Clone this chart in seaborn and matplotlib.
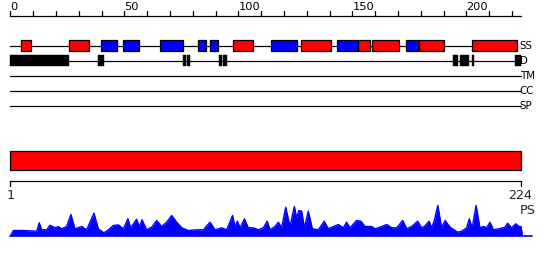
import matplotlib
matplotlib.use("Agg")
import matplotlib.pyplot as plt
from matplotlib.patches import Rectangle
import seaborn as sns

# ---------------- data ----------------
seq_len = 224
ruler_major = [0, 50, 100, 150, 200]
ruler_minor = [0, 10, 20, 30, 40, 50, 60, 70, 80, 90, 100, 110, 120, 130,
               140, 150, 160, 170, 180, 190, 200, 210, 220]

# secondary structure elements (H = helix red, E = strand blue)
ss_start = [4.7, 25.8, 39.7, 49.5, 65.7, 82.4, 87.6, 97.7, 114.3, 127.5,
            143.3, 152.5, 158.7, 173.6, 179.3, 202.5]
ss_end = [8.9, 34.6, 46.8, 56.5, 75.8, 85.6, 90.9, 106.5, 125.5, 140.7,
          152.5, 157.5, 170.5, 178.6, 190.3, 222.3]
ss_type = ["H", "H", "E", "E", "E", "E", "E", "H", "E", "H",
           "E", "H", "H", "E", "H", "H"]

# disordered regions
dis_start = [0.0, 38.5, 75.7, 77.4, 91.4, 93.4, 194.1, 197.3, 202.4, 221.4]
dis_end = [25.8, 41.0, 76.8, 78.6, 92.6, 94.9, 196.4, 201.2, 203.4, 223.8]

track_labels = ["SS", "D", "TM", "CC", "SP"]

# domain bar
domain_start = [0.0]
domain_end = [224.0]

# PS profile (position, score)
ps_pos = [1.07, 2.24, 6.6, 12.5, 13.6, 14.7, 16.9, 18.3, 20.5, 22.0,
          23.4, 25.6, 27.5, 29.3, 32.2, 34.4, 37.6, 39.5, 42.0, 43.9,
          46.1, 48.3, 50.5, 52.5, 53.7, 56.3, 57.5, 58.7, 60.7, 62.9,
          65.1, 67.3, 69.5, 71.7, 73.9, 76.1, 79.0, 82.7, 85.6, 88.5,
          90.7, 93.6, 95.8, 98.4, 99.5, 100.5, 101.7, 103.6, 105.3, 107.5,
          109.7, 111.9, 113.6, 114.8, 117.0,
          118.5, 119.9, 121.7, 123.6, 125.5, 126.5, 127.5, 128.7, 129.9, 131.6,
          133.4, 136.0, 138.6, 140.4, 142.6, 144.8, 147.0, 148.4, 149.9, 152.8,
          154.7, 156.5, 159.4, 160.9, 163.8, 166.0, 168.2, 170.4, 173.0, 174.8,
          176.9, 179.6, 181.3, 182.5, 184.6, 185.7, 186.9, 188.4, 190.1, 191.6,
          193.8, 197.1, 198.9, 201.1, 202.2, 203.5, 205.2, 206.9, 208.4, 209.8,
          211.3, 212.8, 215.3, 217.9, 219.0, 220.8, 222.6, 224.0, 224.9, 225.5]
ps_val = [0.0, 5.0, 5.0, 4.3, 12.7, 5.7, 5.7, 10.3, 7.7, 9.0,
          6.7, 9.0, 21.0, 6.7, 9.0, 5.7, 22.3, 6.7, 2.7, 5.7,
          10.0, 10.7, 6.7, 16.7, 7.7, 16.3, 9.0, 15.7, 5.7, 8.3,
          15.0, 9.0, 13.3, 20.0, 13.3, 7.7, 5.0, 5.7, 5.7, 13.3,
          5.7, 7.7, 5.7, 20.0, 9.0, 14.3, 7.7, 16.7, 7.7, 7.7,
          5.7, 7.7, 14.3, 5.7, 9.0,
          13.3, 7.7, 28.3, 9.0, 29.0, 17.7, 25.0, 24.3, 7.7, 24.3,
          6.7, 5.7, 14.3, 6.7, 9.0, 11.0, 7.7, 13.3, 7.7, 15.0,
          14.3, 9.0, 9.0, 6.7, 9.0, 11.0, 7.7, 7.7, 15.0, 6.7,
          9.0, 14.3, 7.7, 9.0, 14.3, 7.7, 15.0, 30.0, 7.7, 15.0,
          8.3, 3.3, 4.3, 7.7, 16.7, 7.7, 30.0, 7.7, 9.0, 7.7,
          13.3, 5.7, 6.7, 8.3, 12.3, 7.7, 11.7, 9.0, 9.0, 0.0]
ps_baseline_end = 229.6

# ---------------- figure ----------------
sns.set_theme(style="white")
plt.rcParams["font.family"] = ["DejaVu Sans"]

W, H = 550, 260
PX = 2.28          # pixels per residue
X0 = 10.5          # pixel of residue origin
fig = plt.figure(figsize=(W / 100, H / 100), dpi=100)
ax = fig.add_axes([0, 0, 1, 1])
ax.set_xlim(-X0 / PX, (W - X0) / PX)
ax.set_ylim(H, 0)
ax.axis("off")

LW = 0.9
RED = "#ff0000"
BLUE = "#0000ff"

# top ruler
y_r = 15.5
ax.plot([0, seq_len], [y_r, y_r], color="black", lw=LW)
for t in ruler_minor:
    ax.plot([t, t], [y_r, y_r - 4.5], color="black", lw=LW)
for t in ruler_major:
    ax.text(t, 6.5, str(t), ha="left", va="center", fontsize=8.2, color="black")

# track lines
track_y = [45.5, 60.5, 75.5, 90.5, 105.5]
line_end = [ss_end[-1], dis_end[-1], seq_len, seq_len, seq_len]
for lab, y, xe in zip(track_labels, track_y, line_end):
    ax.plot([0, xe], [y, y], color="black", lw=LW, zorder=1)
    ax.text(seq_len - 0.6, y + 0.5, lab, ha="left", va="center", fontsize=7.4,
            color="black")

# SS boxes
for s, e, t in zip(ss_start, ss_end, ss_type):
    ax.add_patch(Rectangle((s, track_y[0] - 5.3), e - s, 10.6,
                           facecolor=RED if t == "H" else BLUE,
                           edgecolor="black", lw=LW, zorder=2))
# disorder boxes
for s, e in zip(dis_start, dis_end):
    ax.add_patch(Rectangle((s, track_y[1] - 5.5), e - s, 11,
                           facecolor="black", edgecolor="black", lw=0.3, zorder=2))

# domain bar
for s, e in zip(domain_start, domain_end):
    ax.add_patch(Rectangle((s, 150.7), e - s, 19.6, facecolor=RED,
                           edgecolor="black", lw=LW, zorder=2))

# bottom ruler
y_b = 180.5
ax.plot([0, seq_len], [y_b, y_b], color="black", lw=LW)
for t in [0, seq_len]:
    ax.plot([t, t], [y_b, y_b + 5], color="black", lw=LW)
ax.text(0.2, 195.5, "1", ha="center", va="center", fontsize=9.2)
ax.text(seq_len - 0.5, 195.5, str(seq_len), ha="center", va="center", fontsize=9.2)
ax.text(seq_len + 2.8, 211, "PS", ha="center", va="center", fontsize=9.2)

# PS profile axes (residue numbering starts at 1)
base_px = 235.5
top_px = 199.5
axp = fig.add_axes([0, (H - base_px) / H, 1, (base_px - top_px) / H])
axp.set_xlim(1 - X0 / PX, 1 + (W - X0) / PX)
axp.set_ylim(0, base_px - top_px)
axp.axis("off")
axp.patch.set_alpha(0)
axp.fill_between(ps_pos, ps_val, 0, color=BLUE, lw=0)
sns.lineplot(x=ps_pos, y=ps_val, ax=axp, color=BLUE, lw=1.0, sort=False,
             estimator=None)
axp.plot([1, ps_baseline_end], [0, 0], color=BLUE, lw=1.2, clip_on=False)

fig.savefig("out.png", dpi=100)
